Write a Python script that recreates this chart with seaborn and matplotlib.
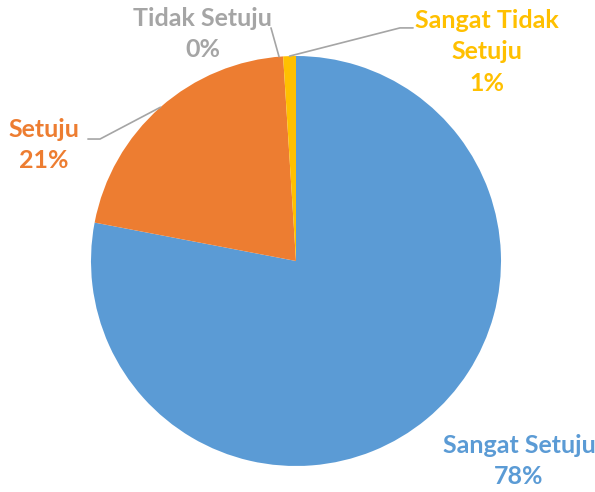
import matplotlib
matplotlib.use("Agg")
import matplotlib.pyplot as plt
import seaborn as sns
import numpy as np

categories = ["Sangat Setuju", "Setuju", "Tidak Setuju", "Sangat Tidak Setuju"]
values = [78, 21, 0, 1]
pct_labels = ["78%", "21%", "0%", "1%"]
display_names = ["Sangat Setuju", "Setuju", "Tidak Setuju", "Sangat Tidak\nSetuju"]
colors = ["#5B9BD5", "#ED7D31", "#A5A5A5", "#FFC000"]

sns.set_theme(style="white")
plt.rcParams['font.family'] = ['Lato', 'DejaVu Sans']

fig = plt.figure(figsize=(5.95, 4.92), dpi=100)
ax = fig.add_axes([(296 - 205) / 595, (492 - 466) / 492, 410 / 595, 410 / 492])
palette = sns.color_palette(colors)
wedges, _ = ax.pie(values, colors=palette, startangle=90, counterclock=False,
                   radius=1.0, wedgeprops=dict(linewidth=0))
ax.set_xlim(-1, 1)
ax.set_ylim(-1, 1)
ax.set_aspect('equal')
ax.axis('off')

total = float(sum(values))
cum = np.cumsum([0] + values)

def edge_point(i, frac=0.5):
    a = (cum[i] + frac * values[i]) / total * 2 * np.pi
    return np.sin(a), np.cos(a)

fs = 18
ls = 1.45
line_c = "#A5A5A5"
kw = dict(ha="center", va="center", fontsize=fs, fontweight="bold",
          linespacing=ls, clip_on=False)
# Sangat Setuju
ax.text(1.088, -0.976, f"{display_names[0]}\n{pct_labels[0]}", color=colors[0], **kw)
# Setuju
ax.text(-1.229, 0.566, f"{display_names[1]}\n{pct_labels[1]}", color=colors[1], **kw)
x0, y0 = edge_point(1)
ax.plot([x0, -0.956, -1.015], [y0, 0.595, 0.595], color=line_c, lw=1.2, clip_on=False)
# Tidak Setuju
ax.text(-0.454, 1.107, f"{display_names[2]}\n{pct_labels[2]}", color=colors[2], **kw)
a3 = cum[3] / total * 2 * np.pi - 0.02
ax.plot([np.sin(a3), -0.122], [np.cos(a3), 1.137], color=line_c, lw=1.2, clip_on=False)
# Sangat Tidak Setuju
ax.text(0.932, 1.02, f"{display_names[3]}\n{pct_labels[3]}", color=colors[3], **kw)
x0, y0 = edge_point(3)
ax.plot([x0, 0.507, 0.571], [y0, 1.137, 1.137], color=line_c, lw=1.2, clip_on=False)

fig.savefig("out.png", dpi=100)
